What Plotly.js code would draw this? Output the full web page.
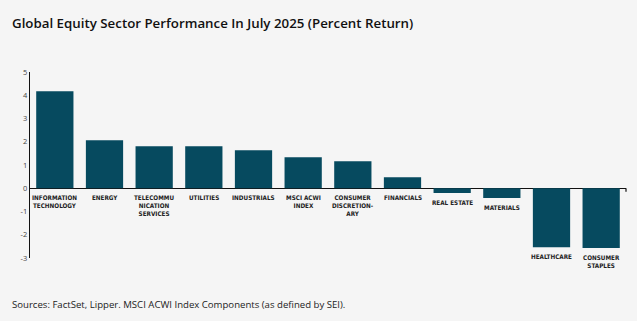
<!DOCTYPE html>
<html>
<head>
<meta charset="utf-8">
<script src="https://cdn.plot.ly/plotly-3.0.1.min.js"></script>
<style>
html,body{margin:0;padding:0;background:#f5f5f5;}
#chart{width:637px;height:321px;}
</style>
</head>
<body>
<div id="chart"></div>
<script>
const categories = ["INFORMATION<br>TECHNOLOGY","ENERGY","TELECOMMU<br>NICATION<br>SERVICES","UTILITIES","INDUSTRIALS","MSCI ACWI<br>INDEX","CONSUMER<br>DISCRETION-<br>ARY","FINANCIALS","REAL ESTATE","MATERIALS","HEALTHCARE","CONSUMER<br>STAPLES"];
const values = [4.17, 2.06, 1.81, 1.81, 1.63, 1.33, 1.16, 0.47, -0.2, -0.42, -2.54, -2.57];
const yTicks = [5, 4, 3, 2, 1, 0, -1, -2, -3];

const idx = categories.map((c, i) => i);
const trace = {
  type: 'bar',
  x: idx,
  y: values,
  marker: {color: '#064a5f'},
  hoverinfo: 'none'
};

const annotations = categories.map((c, i) => ({
  x: i, y: Math.min(0, values[i]), xref: 'x', yref: 'y',
  text: '<b>' + c + '</b>', showarrow: false,
  yanchor: 'top', xanchor: 'center', yshift: -4,
  font: {family: 'DejaVu Sans Condensed, Liberation Sans Narrow, sans-serif', size: 6.3, color: '#222'},
  align: 'center'
}));

annotations.push({
  xref: 'paper', yref: 'paper', x: -0.033, y: 1.262, xanchor: 'left', yanchor: 'middle',
  text: 'Global Equity Sector Performance In July 2025 (Percent Return)', showarrow: false,
  font: {family: 'Open Sans, sans-serif', size: 13.3, color: '#111', weight: 600}
});
annotations.push({
  xref: 'paper', yref: 'paper', x: -0.033, y: -0.252, xanchor: 'left', yanchor: 'middle',
  text: 'Sources: FactSet, Lipper. MSCI ACWI Index Components (as defined by SEI).', showarrow: false,
  font: {family: 'Open Sans, sans-serif', size: 9.6, color: '#222'}
});

const layout = {
  width: 637, height: 321,
  margin: {l: 30, r: 11, t: 72, b: 63},
  paper_bgcolor: '#f5f5f5', plot_bgcolor: '#f5f5f5',
  bargap: 0.25,
  showlegend: false,
  xaxis: {range: [-0.5, categories.length - 0.5], showticklabels: false, showgrid: false, zeroline: false, showline: false, ticks: ''},
  yaxis: {range: [-3, 5], tickvals: yTicks, ticktext: yTicks.map(String), showgrid: false,
          zeroline: true, zerolinecolor: '#111', zerolinewidth: 1.2,
          showline: true, linecolor: '#111', linewidth: 1.2, ticks: '',
          tickfont: {family: 'Open Sans, sans-serif', size: 7.5, color: '#444'}},
  shapes: [{type: 'line', xref: 'paper', yref: 'y', x0: 1, x1: 1, y0: 0, y1: -0.15, line: {color: '#111', width: 1.2}}],
  annotations: annotations
};

Plotly.newPlot('chart', [trace], layout, {displayModeBar: false, staticPlot: true});
</script>
</body>
</html>
